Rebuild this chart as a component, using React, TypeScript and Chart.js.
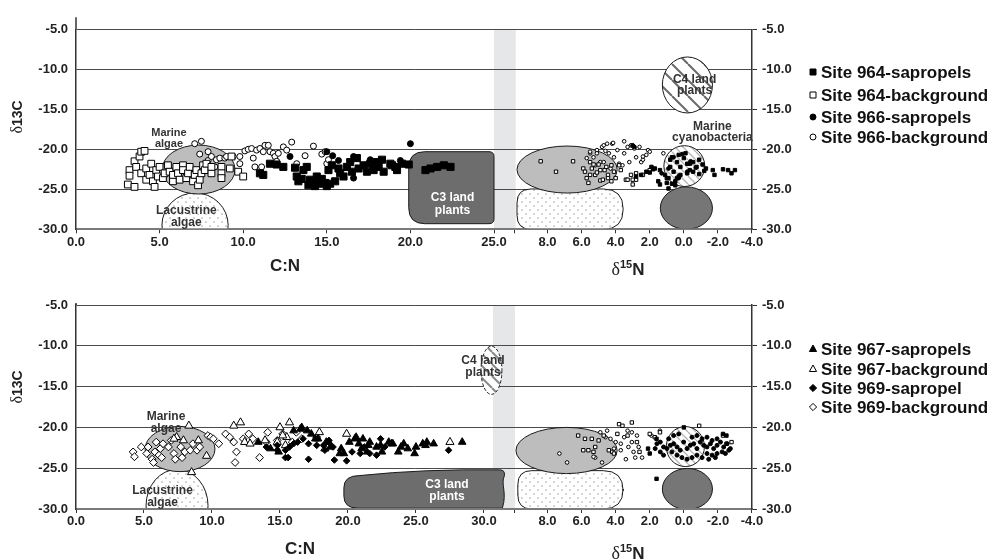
import React, { useEffect, useRef } from 'react';
import { Chart, registerables } from 'chart.js';

Chart.register(...registerables);

type Pt = [number, number];

// ---------- axis ticks ----------
const yTicks = [-30, -25, -20, -15, -10, -5];
const cnTicksTop = [0, 5, 10, 15, 20, 25];
const cnTicksBottom = [0, 5, 10, 15, 20, 25, 30];
const n15Ticks = [8, 6, 4, 2, 0, -2, -4];

// ---------- legend labels ----------
const legendTop = ['Site 964-sapropels', 'Site 964-background', 'Site 966-sapropels', 'Site 966-background'];
const legendBottom = ['Site 967-sapropels', 'Site 967-background', 'Site 969-sapropel', 'Site 969-background'];

// ---------- TOP PANEL DATA: [C:N, d13C] ----------
const s964SapCN: Pt[] = [[11.0,-23.0],[11.2,-23.2],[11.6,-21.8],[12.0,-21.9],[12.4,-22.2],[13.1,-22.3],[13.2,-23.4],[13.3,-24.0],[13.5,-23.7],[13.6,-22.6],[13.8,-22.2],[13.9,-24.5],[14.0,-23.8],[14.2,-24.0],[14.3,-24.6],[14.4,-23.4],[14.6,-24.3],[14.7,-23.7],[14.9,-24.2],[15.0,-24.6],[15.1,-22.6],[15.2,-24.3],[15.3,-22.0],[15.5,-24.0],[15.7,-22.4],[15.8,-23.0],[16.0,-23.4],[16.2,-22.2],[16.4,-21.6],[16.5,-22.8],[16.8,-21.1],[16.9,-22.4],[17.2,-22.0],[17.4,-22.8],[17.6,-21.8],[17.8,-22.6],[17.9,-21.6],[18.1,-22.2],[18.3,-21.3],[18.4,-22.8],[18.8,-21.8],[18.9,-22.0],[19.1,-22.2],[19.2,-22.6],[19.5,-21.8],[19.9,-21.9],[20.9,-22.6],[21.2,-22.4],[21.6,-22.2],[22.0,-22.0],[22.4,-22.2]];
const s966SapCN: Pt[] = [[12.8,-20.9],[15.0,-20.3],[15.35,-20.8],[15.7,-21.4],[16.6,-20.9],[16.6,-23.6],[17.6,-21.3],[19.4,-21.4],[20.0,-19.3]];
const s964BgCN: Pt[] = [[3.1,-24.4],[3.2,-22.6],[3.2,-23.3],[3.5,-24.7],[3.5,-21.5],[3.6,-22.2],[3.8,-20.9],[3.9,-20.3],[4.1,-20.2],[3.9,-23.0],[4.2,-23.8],[4.2,-22.4],[4.4,-23.2],[4.5,-21.8],[4.6,-24.0],[4.7,-24.7],[4.8,-22.6],[4.9,-23.4],[5.0,-22.2],[5.2,-23.6],[5.3,-23.0],[5.5,-22.0],[5.6,-22.8],[5.8,-24.0],[5.8,-23.2],[6.0,-22.2],[6.1,-23.0],[6.2,-23.8],[6.4,-22.0],[6.4,-22.6],[6.6,-23.6],[6.7,-23.0],[6.8,-22.2],[7.0,-24.0],[7.1,-23.2],[7.2,-22.6],[7.3,-24.5],[7.4,-23.8],[7.5,-23.0],[7.6,-22.0],[7.7,-22.6],[7.8,-21.8],[8.1,-23.0],[8.1,-22.2],[8.7,-22.2],[8.7,-23.0],[8.7,-23.6],[9.2,-22.4],[9.3,-20.9],[9.7,-22.8],[10.0,-23.4]];
const s966BgCN: Pt[] = [[7.1,-19.3],[7.5,-19.0],[7.4,-20.6],[7.9,-20.3],[7.9,-21.4],[8.1,-20.9],[8.4,-21.3],[8.3,-22.2],[8.6,-21.1],[8.9,-21.1],[9.0,-20.9],[9.4,-20.9],[9.8,-20.9],[9.8,-21.8],[10.1,-20.2],[10.3,-20.0],[10.5,-19.9],[10.6,-21.1],[10.7,-22.2],[10.8,-20.1],[11.0,-19.9],[11.1,-22.2],[11.2,-20.3],[11.3,-19.5],[11.5,-19.5],[11.6,-20.3],[11.8,-20.5],[11.9,-20.9],[12.0,-21.5],[12.1,-20.5],[12.4,-19.7],[12.6,-20.1],[12.9,-19.1],[13.2,-21.8],[13.7,-20.8],[14.2,-19.6],[14.7,-20.6],[14.9,-20.3],[15.0,-21.8],[15.1,-21.3]];
// TOP PANEL DATA: [d15N, d13C]
const s964SapN: Pt[] = [[2.2,-22.8],[1.9,-22.2],[1.7,-22.4],[1.5,-24.0],[1.4,-22.6],[1.1,-23.2],[0.9,-23.6],[0.7,-24.3],[0.7,-21.0],[0.4,-21.6],[0.2,-22.2],[0.0,-21.1],[-0.2,-21.8],[-0.35,-22.6],[-0.55,-21.6],[-0.75,-22.2],[-0.9,-21.3],[-1.1,-21.9],[0.6,-22.8],[0.4,-23.6],[0.2,-23.2],[-0.2,-23.0],[-0.55,-22.8],[0.8,-22.2],[0.5,-24.0],[1.0,-23.6],[-1.7,-22.6],[1.4,-24.4],[1.0,-24.2],[0.9,-24.9],[0.5,-24.5],[0.3,-23.4],[-0.35,-21.8],[-1.3,-22.4],[-1.8,-23.2],[-2.3,-22.5],[-2.6,-22.6],[-2.8,-23.0],[-3.0,-22.6],[0.3,-20.7],[-0.1,-20.5],[0.8,-21.3],[2.0,-22.9],[1.8,-22.5],[2.5,-23.2],[2.8,-23.4],[-1.2,-22.7],[-0.9,-23.1]];
const s966SapN: Pt[] = [[3.0,-19.5],[2.9,-19.7],[0.6,-21.0],[0.1,-20.6],[-0.4,-21.5],[0.3,-23.6],[-0.7,-22.3],[0.9,-22.4],[-0.2,-22.8],[1.3,-23.0]];
const s964BgN: Pt[] = [[8.4,-21.5],[6.5,-21.5],[7.5,-22.8],[5.9,-22.4],[5.8,-22.8],[5.7,-23.6],[5.6,-24.2],[5.5,-21.6],[5.5,-23.2],[5.4,-22.4],[5.3,-21.9],[5.2,-23.2],[5.1,-22.9],[5.0,-21.9],[4.9,-22.6],[4.9,-23.9],[4.75,-23.8],[4.65,-22.6],[4.55,-22.2],[4.45,-23.2],[4.45,-23.6],[4.25,-24.0],[4.25,-22.0],[4.1,-22.8],[4.0,-23.6],[3.8,-22.0],[3.7,-22.6],[3.4,-23.8],[3.3,-23.8],[3.1,-23.2],[3.0,-23.8],[3.0,-24.4],[2.8,-23.8],[2.8,-23.0],[2.4,-23.2],[2.0,-22.6]];
const s966BgN: Pt[] = [[5.5,-20.5],[5.5,-20.3],[5.3,-21.0],[5.1,-20.1],[5.1,-20.5],[4.9,-21.6],[4.8,-19.7],[4.7,-19.5],[4.7,-21.6],[4.6,-20.2],[4.5,-19.3],[4.4,-20.5],[4.3,-22.4],[4.2,-19.3],[4.15,-19.2],[4.1,-21.0],[3.9,-20.1],[3.8,-21.8],[3.6,-22.0],[3.5,-20.5],[3.5,-19.0],[3.3,-19.7],[3.2,-21.6],[3.1,-19.5],[3.0,-19.6],[2.9,-19.9],[2.8,-21.0],[2.6,-19.7],[2.5,-21.6],[2.4,-21.3],[2.4,-20.9],[2.2,-20.7],[2.1,-20.1],[2.0,-20.3],[1.2,-20.5],[5.7,-21.1],[5.2,-22.0]];

// ---------- BOTTOM PANEL DATA: [C:N, d13C] ----------
const s967SapCN: Pt[] = [[13.4,-21.8],[14.3,-22.6],[14.9,-23.0],[16.0,-20.4],[16.5,-20.2],[16.6,-20.0],[17.0,-20.4],[17.3,-20.8],[17.6,-21.4],[17.8,-21.4],[18.4,-21.8],[18.6,-21.8],[18.7,-22.4],[19.4,-23.2],[19.5,-22.6],[19.7,-23.2],[20.1,-21.8],[20.5,-21.4],[20.6,-21.2],[20.8,-22.0],[21.0,-22.6],[21.1,-21.4],[21.4,-23.0],[21.5,-22.2],[21.6,-21.8],[22.1,-22.4],[22.4,-22.2],[22.5,-23.0],[23.0,-21.8],[23.2,-22.0],[23.3,-22.0],[23.7,-23.0],[23.9,-22.4],[24.1,-22.0],[24.4,-22.6],[24.9,-23.2],[25.0,-22.4],[25.5,-22.0],[25.7,-22.2],[25.8,-21.8],[26.3,-22.0],[28.4,-21.8]];
const s969SapCN: Pt[] = [[14.0,-22.4],[14.8,-22.2],[14.8,-22.8],[15.4,-22.8],[15.4,-23.7],[15.6,-23.7],[15.7,-22.4],[16.0,-22.0],[16.3,-21.8],[16.7,-21.4],[17.1,-22.0],[17.1,-23.9],[17.7,-22.2],[18.2,-22.2],[18.3,-22.8],[18.6,-21.6],[18.9,-22.4],[19.0,-24.0],[19.9,-24.1],[20.3,-23.0],[20.9,-23.2],[21.2,-22.4],[21.6,-23.2],[22.1,-23.4],[22.4,-21.4],[22.7,-22.4],[27.4,-22.8]];
const s967BgCN: Pt[] = [[8.3,-19.8],[8.5,-25.5],[9.6,-23.5],[9.0,-21.6],[7.4,-21.2],[7.2,-21.4],[7.9,-21.6],[11.6,-19.8],[12.1,-19.4],[12.4,-21.8],[12.8,-22.0],[13.9,-21.6],[15.0,-20.0],[15.5,-21.2],[15.7,-19.4],[15.4,-22.2],[15.2,-21.0],[14.8,-21.8],[17.9,-20.6],[18.3,-22.6],[19.9,-20.8],[27.5,-21.8]];
const s969BgCN: Pt[] = [[4.2,-23.0],[4.3,-23.6],[4.8,-22.4],[5.2,-23.2],[5.3,-22.4],[5.6,-23.9],[5.7,-24.3],[5.8,-23.0],[5.9,-21.8],[6.1,-23.4],[6.2,-22.6],[6.3,-23.7],[6.4,-22.0],[6.8,-22.4],[7.0,-21.6],[7.2,-23.2],[7.3,-23.9],[7.7,-22.4],[7.8,-23.7],[8.0,-23.0],[8.4,-22.8],[8.6,-22.0],[8.9,-22.8],[9.1,-22.4],[9.7,-21.0],[9.9,-21.2],[10.1,-21.4],[10.5,-22.0],[11.0,-20.8],[11.3,-21.2],[11.6,-21.8],[11.8,-23.0],[11.7,-24.3],[12.3,-21.4],[12.7,-20.8],[13.0,-21.4],[13.5,-23.7],[14.0,-21.8],[14.1,-20.6],[14.8,-21.6],[15.2,-20.8],[15.9,-21.8],[16.2,-20.6],[16.6,-21.4],[17.7,-21.2]];
// BOTTOM PANEL DATA: [d15N, d13C]
const s967SapN: Pt[] = [[2.1,-22.6],[2.0,-23.2],[1.6,-21.4],[0.0,-20.0],[-2.3,-20.8],[-2.5,-21.0],[1.6,-26.3]];
const s969SapN: Pt[] = [[1.58,-22.0],[1.38,-21.8],[1.19,-22.4],[0.99,-22.6],[0.79,-22.2],[0.6,-22.0],[0.4,-22.4],[0.21,-22.8],[0.01,-21.8],[-0.19,-22.6],[-0.38,-22.2],[-0.58,-22.0],[-0.77,-22.6],[-0.97,-21.8],[-1.17,-22.2],[-1.36,-22.4],[-1.56,-22.0],[-1.75,-22.6],[-1.95,-22.2],[-2.15,-21.8],[-2.34,-22.4],[-2.54,-22.0],[-2.64,-22.8],[-2.73,-22.6],[-2.44,-23.2],[-2.25,-23.0],[-1.95,-23.2],[-1.66,-23.4],[-1.36,-23.2],[-1.07,-23.7],[-0.77,-23.4],[-0.48,-23.7],[-0.19,-23.9],[0.11,-23.7],[0.4,-23.4],[0.7,-23.0],[0.89,-21.4],[0.6,-21.0],[0.3,-20.8],[-0.48,-21.2],[-0.77,-21.0],[-1.07,-21.4],[-1.36,-21.2],[-1.66,-21.6],[-1.95,-21.4],[1.38,-23.0],[1.19,-23.4],[1.68,-22.6],[-1.85,-23.7],[-1.46,-23.9]];
const s967BgN: Pt[] = [[6.2,-21.0],[5.8,-21.4],[5.4,-21.4],[5.0,-21.6],[4.7,-21.0],[5.2,-22.4],[5.9,-22.8],[5.6,-22.8],[5.3,-23.0],[4.4,-22.8],[4.2,-23.0],[4.1,-23.2],[3.8,-19.6],[3.6,-19.8],[3.05,-19.4],[3.9,-20.8],[3.3,-21.0],[2.75,-21.8],[2.6,-23.0],[2.0,-20.8],[1.7,-21.2],[1.4,-20.6],[-0.9,-19.8],[-2.3,-21.0],[-2.8,-21.8],[-2.5,-22.0]];
const s969BgN: Pt[] = [[7.3,-23.2],[6.85,-24.3],[5.2,-23.7],[4.8,-24.3],[4.5,-20.4],[4.3,-21.4],[4.0,-21.8],[3.7,-22.0],[3.5,-21.2],[3.4,-23.9],[3.25,-22.4],[3.05,-21.8],[2.95,-23.0],[2.85,-23.7],[2.65,-22.4],[2.45,-23.7],[3.3,-20.4],[3.05,-20.6],[2.75,-21.0],[4.9,-20.6],[4.6,-21.2],[3.7,-22.8],[4.1,-22.6],[1.4,-20.4],[1.9,-21.0],[5.3,-23.6]];

// ---------- annotation shapes (data units) ----------
const shapesTop = [
  { kind: 'ellipse', sp: 'cn', cx: 7.12, cy: -29.5, rx: 1.98, ry: 4.05, fill: 'dots' },
  { kind: 'ellipse', sp: 'cn', cx: 7.33, cy: -22.53, rx: 2.18, ry: 3.06, fill: 'gray' },
  { kind: 'rrect', sp: 'cn', x0: 19.9, x1: 25.0, y0: -20.3, y1: -29.3, rl: 16, rr: 5, fill: 'dark' },
  { kind: 'rrect', sp: 'n', x0: 9.79, x1: 3.56, y0: -24.96, y1: -30, rl: 14, rr: 20, fill: 'dots' },
  { kind: 'ellipse', sp: 'n', cx: 6.85, cy: -22.53, rx: 2.94, ry: 2.94, fill: 'gray' },
  { kind: 'ellipse', sp: 'n', cx: -0.21, cy: -11.96, rx: 1.47, ry: 3.5, fill: 'hatchDark' },
  { kind: 'ellipse', sp: 'n', cx: -0.03, cy: -22.1, rx: 1.2, ry: 2.55, fill: 'hatchLight' },
  { kind: 'ellipse', sp: 'n', cx: -0.15, cy: -27.35, rx: 1.53, ry: 2.65, fill: 'dark2' },
];
const shapesBottom = [
  { kind: 'ellipse', sp: 'cn', cx: 7.43, cy: -29.6, rx: 2.28, ry: 4.45, fill: 'dots' },
  { kind: 'ellipse', sp: 'cn', cx: 7.65, cy: -22.65, rx: 2.57, ry: 2.77, fill: 'gray' },
  { kind: 'tongue', sp: 'cn', x0: 19.7, x1: 31.5, yTL: -25.9, yTR: -25.2, y1: -29.9, fill: 'dark' },
  { kind: 'ellipse', sp: 'cn', cx: 30.55, cy: -13.0, rx: 0.77, ry: 2.95, fill: 'hatchMid', dash: true },
  { kind: 'rrect', sp: 'n', x0: 9.74, x1: 3.56, y0: -25.3, y1: -30, rl: 14, rr: 20, fill: 'dots' },
  { kind: 'ellipse', sp: 'n', cx: 6.88, cy: -22.83, rx: 2.97, ry: 2.83, fill: 'gray' },
  { kind: 'ellipse', sp: 'n', cx: -0.09, cy: -22.35, rx: 1.12, ry: 2.45, fill: 'hatchLight' },
  { kind: 'ellipse', sp: 'n', cx: -0.21, cy: -27.55, rx: 1.47, ry: 2.52, fill: 'dark2' },
];
const labelsTop = [
  { sp: 'cn', x: 5.56, y: -17.96, lines: ['Marine', 'algae'], size: 11, color: '#333', lh: 10.5 },
  { sp: 'cn', x: 6.6, y: -27.7, lines: ['Lacustrine', 'algae'], size: 12, color: '#333', lh: 12 },
  { sp: 'cn', x: 22.52, y: -26.1, lines: ['C3 land', 'plants'], size: 12, color: '#fff', lh: 12.5 },
  { sp: 'n', x: -0.63, y: -11.34, lines: ['C4 land', 'plants'], size: 12, color: '#333', lh: 10.8 },
  { sp: 'n', x: -1.68, y: -17.2, lines: ['Marine', 'cyanobacteria'], size: 12, color: '#333', lh: 11 },
];
const labelsBottom = [
  { sp: 'cn', x: 6.62, y: -18.69, lines: ['Marine', 'algae'], size: 12, color: '#333', lh: 12.3 },
  { sp: 'cn', x: 6.36, y: -27.75, lines: ['Lacustrine', 'algae'], size: 12, color: '#333', lh: 12 },
  { sp: 'cn', x: 27.28, y: -27.0, lines: ['C3 land', 'plants'], size: 12, color: '#fff', lh: 12 },
  { sp: 'cn', x: 29.93, y: -11.77, lines: ['C4 land', 'plants'], size: 12, color: '#333', lh: 12 },
];

const SANS = '"Liberation Sans", Arial, sans-serif';
const SERIF = '"Liberation Serif", "Times New Roman", serif';

const TOP = {
  xMax: 40.43, nOrigin: 28.2, nScale: 1.019, band: [25, 26.3], bandTick: 26.25,
  cnTicks: cnTicksTop, padTop: 29.3, xH: 50.7, axisExt: 12,
  shapes: shapesTop, labels: labelsTop, legend: legendTop, legendY: [72, 95, 117, 137],
  legendMarks: ['sqF', 'sqO', 'ciF', 'ciO'],
  cnTitle: [285, 266], nTitle: [628, 269], yTitle: [17, 117],
  series: [
    { data: s964SapCN, sp: 'cn', style: 'rect', r: 5.0, filled: true },
    { data: s966SapCN, sp: 'cn', style: 'circle', r: 3.0, filled: true },
    { data: s964BgCN, sp: 'cn', style: 'rect', r: 4.8, filled: false },
    { data: s966BgCN, sp: 'cn', style: 'circle', r: 3.0, filled: false },
    { data: s964SapN, sp: 'n', style: 'rect', r: 2.4, filled: true },
    { data: s966SapN, sp: 'n', style: 'circle', r: 1.9, filled: true },
    { data: s964BgN, sp: 'n', style: 'rect', r: 2.4, filled: false },
    { data: s966BgN, sp: 'n', style: 'circle', r: 1.8, filled: false },
  ],
};
const BOT = {
  xMax: 49.71, nOrigin: 34.67, nScale: 1.2533, band: [30.66, 32.28], bandTick: 32.24,
  cnTicks: cnTicksBottom, padTop: 25, xH: 51, axisExt: 2,
  shapes: shapesBottom, labels: labelsBottom, legend: legendBottom, legendY: [69, 89, 108, 127],
  legendMarks: ['trF', 'trO', 'diF', 'diO'],
  cnTitle: [300, 269], nTitle: [628, 273], yTitle: [17, 107],
  series: [
    { data: s967SapCN, sp: 'cn', style: 'triangle', r: 4.4, filled: true },
    { data: s969SapCN, sp: 'cn', style: 'rectRot', r: 3.3, filled: true },
    { data: s967BgCN, sp: 'cn', style: 'triangle', r: 4.7, filled: false },
    { data: s969BgCN, sp: 'cn', style: 'rectRot', r: 3.9, filled: false },
    { data: s967SapN, sp: 'n', style: 'rect', r: 2.4, filled: true },
    { data: s969SapN, sp: 'n', style: 'circle', r: 2.0, filled: true },
    { data: s967BgN, sp: 'n', style: 'rect', r: 2.4, filled: false },
    { data: s969BgN, sp: 'n', style: 'circle', r: 1.8, filled: false },
  ],
};

function makePattern(ctx: CanvasRenderingContext2D, kind: string) {
  const c = document.createElement('canvas');
  const g = c.getContext('2d') as CanvasRenderingContext2D;
  if (kind === 'dots') {
    c.width = 8; c.height = 8;
    g.fillStyle = '#fff'; g.fillRect(0, 0, 8, 8);
    g.fillStyle = '#a9a9a9';
    g.beginPath(); g.arc(2, 2, 0.85, 0, Math.PI * 2); g.fill();
    g.beginPath(); g.arc(6, 6, 0.85, 0, Math.PI * 2); g.fill();
  } else {
    const cfg: any = kind === 'hatchDark' ? { s: 16, col: '#6a6a6a', w: 2 } : kind === 'hatchMid' ? { s: 12, col: '#8a8a8a', w: 2 } : { s: 8, col: '#b4b4b4', w: 1.3 };
    const s = cfg.s;
    c.width = s; c.height = s;
    g.fillStyle = '#fff'; g.fillRect(0, 0, s, s);
    g.strokeStyle = cfg.col; g.lineWidth = cfg.w;
    for (const k of [-s, 0, s]) {
      g.beginPath(); g.moveTo(k, 0); g.lineTo(k + s, s); g.stroke();
    }
  }
  return ctx.createPattern(c, 'repeat');
}

function rrPath(ctx: CanvasRenderingContext2D, l: number, t: number, r: number, b: number, rl: number, rr: number) {
  ctx.beginPath();
  ctx.moveTo(l + rl, t);
  ctx.lineTo(r - rr, t);
  ctx.quadraticCurveTo(r, t, r, t + rr);
  ctx.lineTo(r, b - rr);
  ctx.quadraticCurveTo(r, b, r - rr, b);
  ctx.lineTo(l + rl, b);
  ctx.quadraticCurveTo(l, b, l, b - rl);
  ctx.lineTo(l, t + rl);
  ctx.quadraticCurveTo(l, t, l + rl, t);
  ctx.closePath();
}

function drawMixed(ctx: CanvasRenderingContext2D, parts: any[], cx: number, base: number) {
  let total = 0;
  for (const p of parts) { ctx.font = p.font; total += ctx.measureText(p.t).width; }
  let x = cx - total / 2;
  ctx.textAlign = 'left';
  ctx.textBaseline = 'alphabetic';
  for (const p of parts) {
    ctx.font = p.font;
    ctx.fillText(p.t, x, base + (p.dy || 0));
    x += ctx.measureText(p.t).width;
  }
}

function drawMarker(ctx: CanvasRenderingContext2D, kind: string, x: number, y: number) {
  ctx.save();
  ctx.lineWidth = 1;
  ctx.strokeStyle = '#000';
  ctx.fillStyle = kind.endsWith('F') ? '#000' : '#fff';
  ctx.beginPath();
  if (kind.startsWith('sq')) ctx.rect(x - 3, y - 3, 6, 6);
  else if (kind.startsWith('ci')) ctx.arc(x, y, 3, 0, Math.PI * 2);
  else if (kind.startsWith('tr')) { ctx.moveTo(x, y - 4); ctx.lineTo(x + 3.6, y + 2.5); ctx.lineTo(x - 3.6, y + 2.5); ctx.closePath(); }
  else { ctx.moveTo(x, y - 3.6); ctx.lineTo(x + 3.6, y); ctx.lineTo(x, y + 3.6); ctx.lineTo(x - 3.6, y); ctx.closePath(); }
  ctx.fill();
  ctx.stroke();
  ctx.restore();
}

function buildChart(canvas: HTMLCanvasElement, P: any) {
  const xOf = (sp: string, v: number) => (sp === 'cn' ? v : P.nOrigin + (8 - v) * P.nScale);
  const tickVals = [...P.cnTicks, P.bandTick, ...n15Ticks.map((v) => xOf('n', v))];
  const tickLabels = [...P.cnTicks.map((v: number) => v.toFixed(1)), '', ...n15Ticks.map((v) => v.toFixed(1))];

  const datasets = P.series.map((s: any) => ({
    data: s.data.map(([a, b]: Pt) => ({ x: xOf(s.sp, a), y: b })),
    pointStyle: s.style,
    pointRadius: s.r,
    pointHoverRadius: s.r,
    backgroundColor: s.filled ? '#000' : '#fff',
    borderColor: '#000',
    borderWidth: 1,
    showLine: false,
  }));

  let patterns: any = null;

  const plugin = {
    id: 'panelDecor',
    beforeDraw(chart: any) {
      const { ctx, chartArea: a, scales } = chart;
      const x = scales.x;
      ctx.save();
      ctx.fillStyle = '#fff';
      ctx.fillRect(0, 0, chart.width, chart.height);
      const b0 = x.getPixelForValue(P.band[0]);
      const b1 = x.getPixelForValue(P.band[1]);
      ctx.fillStyle = '#e6e7e8';
      ctx.fillRect(b0, a.top, b1 - b0, a.bottom - a.top);
      ctx.restore();
    },
    beforeDatasetsDraw(chart: any) {
      const { ctx, chartArea: a, scales } = chart;
      const x = scales.x, y = scales.y;
      if (!patterns) {
        patterns = {
          dots: makePattern(ctx, 'dots'),
          hatchDark: makePattern(ctx, 'hatchDark'),
          hatchLight: makePattern(ctx, 'hatchLight'),
          hatchMid: makePattern(ctx, 'hatchMid'),
          gray: '#bdbdbd',
          dark: '#6d6d6d',
          dark2: '#767676',
        };
      }
      const X = (sp: string, v: number) => x.getPixelForValue(xOf(sp, v));
      const Y = (v: number) => y.getPixelForValue(v);
      ctx.save();
      ctx.beginPath();
      ctx.rect(a.left, a.top - 2, a.right - a.left, a.bottom - a.top + 1);
      ctx.clip();
      for (const s of P.shapes) {
        if (s.kind === 'ellipse') {
          const cx = X(s.sp, s.cx), cy = Y(s.cy);
          const rx = Math.abs(X(s.sp, s.cx + s.rx) - cx);
          const ry = Math.abs(Y(s.cy + s.ry) - cy);
          ctx.beginPath();
          ctx.ellipse(cx, cy, rx, ry, 0, 0, Math.PI * 2);
        } else if (s.kind === 'rrect') {
          const l = Math.min(X(s.sp, s.x0), X(s.sp, s.x1));
          const r = Math.max(X(s.sp, s.x0), X(s.sp, s.x1));
          rrPath(ctx, l, Y(s.y0), r, Y(s.y1), s.rl, s.rr);
        } else {
          const L = X(s.sp, s.x0), R = X(s.sp, s.x1);
          const tl = Y(s.yTL), tr = Y(s.yTR), B = Y(s.y1);
          ctx.beginPath();
          ctx.moveTo(L + 16, tl);
          ctx.quadraticCurveTo((L + R) / 2, tr - 1, R - 5, tr);
          ctx.quadraticCurveTo(R + 1, tr, R, tr + 6);
          ctx.bezierCurveTo(R - 4, tr + 14, R + 3, B - 16, R - 2, B);
          ctx.lineTo(L + 14, B);
          ctx.quadraticCurveTo(L, B, L, B - 12);
          ctx.lineTo(L, tl + 12);
          ctx.quadraticCurveTo(L, tl, L + 16, tl);
          ctx.closePath();
        }
        ctx.fillStyle = patterns[s.fill];
        ctx.fill();
        ctx.strokeStyle = '#1a1a1a';
        ctx.lineWidth = 1;
        ctx.setLineDash(s.dash ? [3, 2] : []);
        ctx.stroke();
        ctx.setLineDash([]);
      }
      ctx.restore();
      ctx.save();
      ctx.textAlign = 'center';
      ctx.textBaseline = 'middle';
      for (const l of P.labels) {
        ctx.font = `bold ${l.size}px ${SANS}`;
        ctx.fillStyle = l.color;
        const px = X(l.sp, l.x), py = Y(l.y);
        l.lines.forEach((t: string, i: number) => ctx.fillText(t, px, py + i * l.lh));
      }
      ctx.restore();
    },
    afterDraw(chart: any) {
      const { ctx, chartArea: a } = chart;
      ctx.save();
      ctx.strokeStyle = '#333';
      ctx.lineWidth = 1.5;
      ctx.beginPath();
      ctx.moveTo(a.left, a.top - P.axisExt);
      ctx.lineTo(a.left, a.top);
      ctx.stroke();
      ctx.fillStyle = '#222';
      ctx.font = `bold 17px ${SANS}`;
      ctx.textAlign = 'center';
      ctx.textBaseline = 'middle';
      ctx.fillText('C:N', P.cnTitle[0], P.cnTitle[1]);
      drawMixed(ctx, [
        { t: '\u03b4', font: `18px ${SERIF}` },
        { t: '15', font: `bold 11px ${SANS}`, dy: -7 },
        { t: 'N', font: `bold 17px ${SANS}` },
      ], P.nTitle[0], P.nTitle[1] + 6);
      ctx.save();
      ctx.translate(P.yTitle[0], P.yTitle[1]);
      ctx.rotate(-Math.PI / 2);
      drawMixed(ctx, [
        { t: '\u03b4', font: `16px ${SERIF}` },
        { t: '13C', font: `bold 14px ${SANS}` },
      ], 0, 5);
      ctx.restore();
      ctx.font = `bold 17px ${SANS}`;
      ctx.textAlign = 'left';
      ctx.textBaseline = 'middle';
      P.legend.forEach((t: string, i: number) => {
        const yy = P.legendY[i];
        drawMarker(ctx, P.legendMarks[i], 813, yy);
        ctx.fillStyle = '#111';
        ctx.fillText(t, 821, yy + 1);
      });
      ctx.restore();
    },
  };

  const tickFont = { family: SANS, size: 13, weight: 'bold' as const };

  return new Chart(canvas, {
    type: 'scatter',
    data: { datasets },
    plugins: [plugin],
    options: {
      animation: false,
      responsive: false,
      maintainAspectRatio: false,
      events: [],
      layout: { padding: { top: P.padTop, left: 0, right: 0, bottom: 0 } },
      plugins: { legend: { display: false }, tooltip: { enabled: false } },
      scales: {
        x: {
          type: 'linear',
          min: 0,
          max: P.xMax,
          afterBuildTicks: (s: any) => { s.ticks = tickVals.map((v) => ({ value: v })); },
          afterFit: (s: any) => { s.height = P.xH; },
          ticks: { autoSkip: false, maxRotation: 0, padding: 1, color: '#222', font: tickFont, callback: (_v: any, i: number) => tickLabels[i] },
          grid: { drawOnChartArea: false, drawTicks: true, tickLength: 4, color: '#333' },
          border: { color: '#7a7a7a', width: 2 },
        },
        y: {
          type: 'linear',
          min: -30,
          max: -5,
          afterBuildTicks: (s: any) => { s.ticks = yTicks.map((v) => ({ value: v })); },
          afterFit: (s: any) => { s.width = 76; },
          ticks: { padding: 8, color: '#222', font: tickFont, callback: (v: any) => Number(v).toFixed(1) },
          grid: { drawTicks: false, color: '#4a4a4a', lineWidth: 1 },
          border: { color: '#333', width: 1.5 },
        },
        y2: {
          type: 'linear',
          position: 'right',
          min: -30,
          max: -5,
          afterBuildTicks: (s: any) => { s.ticks = yTicks.map((v) => ({ value: v })); },
          afterFit: (s: any) => { s.width = 240; },
          ticks: { padding: 5, color: '#222', font: tickFont, callback: (v: any) => Number(v).toFixed(1) },
          grid: { drawOnChartArea: false, drawTicks: true, tickLength: 5, color: '#333' },
          border: { color: '#333', width: 1.5 },
        },
      },
    } as any,
  });
}

export default function App() {
  const topRef = useRef<HTMLCanvasElement>(null);
  const botRef = useRef<HTMLCanvasElement>(null);
  useEffect(() => {
    const c1 = buildChart(topRef.current as HTMLCanvasElement, TOP);
    const c2 = buildChart(botRef.current as HTMLCanvasElement, BOT);
    return () => { c1.destroy(); c2.destroy(); };
  }, []);
  return (
    <div style={{ position: 'absolute', left: 0, top: 0, width: 992, height: 560, background: '#fff' }}>
      <canvas ref={topRef} width={992} height={280} style={{ display: 'block', width: 992, height: 280 }} />
      <canvas ref={botRef} width={992} height={280} style={{ display: 'block', width: 992, height: 280 }} />
    </div>
  );
}
